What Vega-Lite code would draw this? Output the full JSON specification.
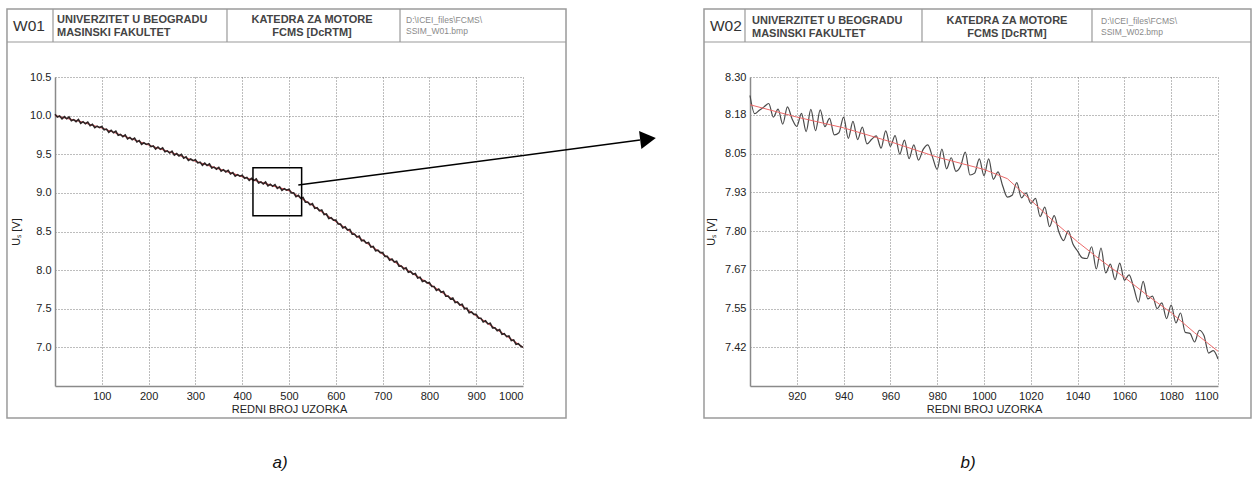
{
"$schema": "https://vega.github.io/schema/vega-lite/v6.json",
"padding": {"left": 6, "top": 8, "right": 0, "bottom": 0},
"bounds": "flush",
"spacing": 227,
"config": {
  "view": {"stroke": null},
  "font": "Liberation Sans",
  "axis": {"labelFont": "Liberation Sans", "labelFontSize": 11, "labelColor": "#222", "titleFont": "Liberation Sans", "titleFontSize": 11, "titleFontWeight": "normal", "titleColor": "#222", "domainColor": "#8a8a8a", "domainWidth": 1.5, "ticks": false, "grid": true, "gridColor": "#7a7a7a", "gridDash": [1, 2], "gridWidth": 1, "gridOpacity": 1, "labelPadding": 4}
},
"datasets": {
  "w01": [
{"n":0,"u":10.018},{"n":5,"u":9.981},{"n":10,"u":9.994},{"n":15,"u":9.957},{"n":20,"u":9.986},{"n":25,"u":9.959},{"n":30,"u":9.982},{"n":35,"u":9.933},{"n":40,"u":9.948},{"n":45,"u":9.923},
{"n":50,"u":9.95},{"n":55,"u":9.901},{"n":60,"u":9.922},{"n":65,"u":9.895},{"n":70,"u":9.916},{"n":75,"u":9.869},{"n":80,"u":9.888},{"n":85,"u":9.843},{"n":90,"u":9.864},{"n":95,"u":9.845},
{"n":100,"u":9.858},{"n":105,"u":9.817},{"n":110,"u":9.826},{"n":115,"u":9.785},{"n":120,"u":9.81},{"n":125,"u":9.779},{"n":130,"u":9.798},{"n":135,"u":9.745},{"n":140,"u":9.756},{"n":145,"u":9.727},
{"n":150,"u":9.75},{"n":155,"u":9.699},{"n":160,"u":9.718},{"n":165,"u":9.689},{"n":170,"u":9.708},{"n":175,"u":9.659},{"n":180,"u":9.676},{"n":185,"u":9.629},{"n":190,"u":9.648},{"n":195,"u":9.627},
{"n":200,"u":9.638},{"n":205,"u":9.598},{"n":210,"u":9.608},{"n":215,"u":9.568},{"n":220,"u":9.594},{"n":225,"u":9.564},{"n":230,"u":9.584},{"n":235,"u":9.532},{"n":240,"u":9.544},{"n":245,"u":9.516},
{"n":250,"u":9.54},{"n":255,"u":9.489},{"n":260,"u":9.508},{"n":265,"u":9.479},{"n":270,"u":9.498},{"n":275,"u":9.449},{"n":280,"u":9.466},{"n":285,"u":9.419},{"n":290,"u":9.438},{"n":295,"u":9.417},
{"n":300,"u":9.428},{"n":305,"u":9.388},{"n":310,"u":9.398},{"n":315,"u":9.358},{"n":320,"u":9.384},{"n":325,"u":9.354},{"n":330,"u":9.374},{"n":335,"u":9.322},{"n":340,"u":9.334},{"n":345,"u":9.306},
{"n":350,"u":9.33},{"n":355,"u":9.28},{"n":360,"u":9.30},{"n":365,"u":9.272},{"n":370,"u":9.292},{"n":375,"u":9.244},{"n":380,"u":9.262},{"n":385,"u":9.216},{"n":390,"u":9.236},{"n":395,"u":9.216},
{"n":400,"u":9.228},{"n":405,"u":9.189},{"n":410,"u":9.2},{"n":415,"u":9.161},{"n":420,"u":9.188},{"n":425,"u":9.159},{"n":430,"u":9.18},{"n":435,"u":9.129},{"n":440,"u":9.142},{"n":445,"u":9.115},
{"n":450,"u":9.14},{"n":455,"u":9.091},{"n":460,"u":9.112},{"n":465,"u":9.085},{"n":470,"u":9.106},{"n":475,"u":9.059},{"n":480,"u":9.078},{"n":485,"u":9.033},{"n":490,"u":9.054},{"n":495,"u":9.035},
{"n":500,"u":9.048},{"n":505,"u":8.999},{"n":510,"u":9.0},{"n":515,"u":8.951},{"n":520,"u":8.968},{"n":525,"u":8.929},{"n":530,"u":8.94},{"n":535,"u":8.879},{"n":540,"u":8.882},{"n":545,"u":8.845},
{"n":550,"u":8.86},{"n":555,"u":8.799},{"n":560,"u":8.808},{"n":565,"u":8.769},{"n":570,"u":8.778},{"n":575,"u":8.719},{"n":580,"u":8.726},{"n":585,"u":8.669},{"n":590,"u":8.678},{"n":595,"u":8.647},
{"n":600,"u":8.648},{"n":605,"u":8.597},{"n":610,"u":8.596},{"n":615,"u":8.545},{"n":620,"u":8.56},{"n":625,"u":8.519},{"n":630,"u":8.528},{"n":635,"u":8.465},{"n":640,"u":8.466},{"n":645,"u":8.427},
{"n":650,"u":8.44},{"n":655,"u":8.379},{"n":660,"u":8.388},{"n":665,"u":8.349},{"n":670,"u":8.358},{"n":675,"u":8.299},{"n":680,"u":8.306},{"n":685,"u":8.249},{"n":690,"u":8.258},{"n":695,"u":8.227},
{"n":700,"u":8.228},{"n":705,"u":8.178},{"n":710,"u":8.178},{"n":715,"u":8.128},{"n":720,"u":8.144},{"n":725,"u":8.104},{"n":730,"u":8.114},{"n":735,"u":8.052},{"n":740,"u":8.054},{"n":745,"u":8.016},
{"n":750,"u":8.03},{"n":755,"u":7.971},{"n":760,"u":7.982},{"n":765,"u":7.945},{"n":770,"u":7.956},{"n":775,"u":7.899},{"n":780,"u":7.908},{"n":785,"u":7.853},{"n":790,"u":7.864},{"n":795,"u":7.835},
{"n":800,"u":7.838},{"n":805,"u":7.788},{"n":810,"u":7.788},{"n":815,"u":7.738},{"n":820,"u":7.754},{"n":825,"u":7.714},{"n":830,"u":7.724},{"n":835,"u":7.662},{"n":840,"u":7.664},{"n":845,"u":7.626},
{"n":850,"u":7.64},{"n":855,"u":7.579},{"n":860,"u":7.588},{"n":865,"u":7.549},{"n":870,"u":7.558},{"n":875,"u":7.499},{"n":880,"u":7.506},{"n":885,"u":7.449},{"n":890,"u":7.458},{"n":895,"u":7.427},
{"n":900,"u":7.428},{"n":905,"u":7.378},{"n":910,"u":7.378},{"n":915,"u":7.328},{"n":920,"u":7.344},{"n":925,"u":7.304},{"n":930,"u":7.314},{"n":935,"u":7.252},{"n":940,"u":7.254},{"n":945,"u":7.216},
{"n":950,"u":7.23},{"n":955,"u":7.169},{"n":960,"u":7.178},{"n":965,"u":7.139},{"n":970,"u":7.148},{"n":975,"u":7.089},{"n":980,"u":7.096},{"n":985,"u":7.039},{"n":990,"u":7.048},{"n":995,"u":7.017},
{"n":1000,"u":7.0}
  ],
  "w01fit": [
{"n":0,"u":10.0},{"n":50,"u":9.93},{"n":100,"u":9.84},{"n":150,"u":9.73},{"n":200,"u":9.62},{"n":250,"u":9.52},{"n":300,"u":9.41},{"n":350,"u":9.31},{"n":400,"u":9.21},{"n":450,"u":9.12},{"n":500,"u":9.03},{"n":550,"u":8.84},{"n":600,"u":8.63},{"n":650,"u":8.42},{"n":700,"u":8.21},{"n":750,"u":8.01},{"n":800,"u":7.82},{"n":850,"u":7.62},{"n":900,"u":7.41},{"n":950,"u":7.21},{"n":1000,"u":7.0}
  ],
  "w02": [
{"n":900,"u":8.24},{"n":902,"u":8.181},{"n":904,"u":8.192},{"n":906,"u":8.203},{"n":908,"u":8.214},{"n":910,"u":8.17},{"n":912,"u":8.196},{"n":914,"u":8.147},{"n":916,"u":8.203},{"n":918,"u":8.164},
{"n":920,"u":8.14},{"n":922,"u":8.182},{"n":924,"u":8.123},{"n":926,"u":8.195},{"n":928,"u":8.126},{"n":930,"u":8.193},{"n":932,"u":8.139},{"n":934,"u":8.166},{"n":936,"u":8.112},{"n":938,"u":8.119},
{"n":940,"u":8.17},{"n":942,"u":8.101},{"n":944,"u":8.156},{"n":946,"u":8.097},{"n":948,"u":8.137},{"n":950,"u":8.083},{"n":952,"u":8.098},{"n":954,"u":8.109},{"n":956,"u":8.069},{"n":958,"u":8.125},
{"n":960,"u":8.075},{"n":962,"u":8.11},{"n":964,"u":8.05},{"n":966,"u":8.095},{"n":968,"u":8.035},{"n":970,"u":8.08},{"n":972,"u":8.03},{"n":974,"u":8.065},{"n":976,"u":8.08},{"n":978,"u":8.04},
{"n":980,"u":8.0},{"n":982,"u":8.066},{"n":984,"u":8.002},{"n":986,"u":8.038},{"n":988,"u":7.994},{"n":990,"u":8.01},{"n":992,"u":8.056},{"n":994,"u":7.982},{"n":996,"u":7.988},{"n":998,"u":8.034},
{"n":1000,"u":7.98},{"n":1002,"u":8.034},{"n":1004,"u":7.968},{"n":1006,"u":7.992},{"n":1008,"u":7.946},{"n":1010,"u":7.91},{"n":1012,"u":7.916},{"n":1014,"u":7.957},{"n":1016,"u":7.908},{"n":1018,"u":7.924},
{"n":1020,"u":7.89},{"n":1022,"u":7.906},{"n":1024,"u":7.847},{"n":1026,"u":7.878},{"n":1028,"u":7.814},{"n":1030,"u":7.85},{"n":1032,"u":7.797},{"n":1034,"u":7.769},{"n":1036,"u":7.801},{"n":1038,"u":7.758},
{"n":1040,"u":7.735},{"n":1042,"u":7.713},{"n":1044,"u":7.711},{"n":1046,"u":7.749},{"n":1048,"u":7.677},{"n":1050,"u":7.745},{"n":1052,"u":7.664},{"n":1054,"u":7.693},{"n":1056,"u":7.642},{"n":1058,"u":7.696},
{"n":1060,"u":7.64},{"n":1062,"u":7.658},{"n":1064,"u":7.616},{"n":1066,"u":7.569},{"n":1068,"u":7.637},{"n":1070,"u":7.58},{"n":1072,"u":7.589},{"n":1074,"u":7.548},{"n":1076,"u":7.567},{"n":1078,"u":7.516},
{"n":1080,"u":7.56},{"n":1082,"u":7.502},{"n":1084,"u":7.534},{"n":1086,"u":7.471},{"n":1088,"u":7.468},{"n":1090,"u":7.44},{"n":1092,"u":7.478},{"n":1094,"u":7.461},{"n":1096,"u":7.404},{"n":1098,"u":7.412},
{"n":1100,"u":7.385}
  ],
  "w02fit": [
{"n":900,"u":8.21},{"n":920,"u":8.17},{"n":940,"u":8.135},{"n":960,"u":8.09},{"n":980,"u":8.04},{"n":1000,"u":8.0},{"n":1010,"u":7.97},{"n":1020,"u":7.9},{"n":1030,"u":7.83},{"n":1040,"u":7.765},{"n":1050,"u":7.705},{"n":1060,"u":7.65},{"n":1070,"u":7.59},{"n":1080,"u":7.535},{"n":1090,"u":7.47},{"n":1100,"u":7.41}
  ]
},
"hconcat": [
{
  "width": 468, "height": 309,
  "layer": [
    {
      "data": {"name": "w01fit"},
      "mark": {"type": "line", "color": "#e0505a", "strokeWidth": 1.2},
      "encoding": {
        "x": {"field": "n", "type": "quantitative", "scale": {"domain": [0, 1000], "nice": false, "zero": false},
              "axis": {"values": [100, 200, 300, 400, 500, 600, 700, 800, 900, 1000], "format": "d", "title": "REDNI BROJ UZORKA", "titlePadding": 2}},
        "y": {"field": "u", "type": "quantitative", "scale": {"domain": [6.5, 10.5], "nice": false, "zero": false},
              "axis": {"values": [7.0, 7.5, 8.0, 8.5, 9.0, 9.5, 10.0, 10.5], "format": ".1f", "title": "Uₛ [V]", "titlePadding": 8}}
      }
    },
    {
      "data": {"name": "w01"},
      "mark": {"type": "line", "color": "#2e2424", "strokeWidth": 1.6},
      "encoding": {
        "x": {"field": "n", "type": "quantitative", "title": "REDNI BROJ UZORKA"},
        "y": {"field": "u", "type": "quantitative", "title": "Uₛ [V]"}
      }
    },
    {
      "data": {"values": [{}]},
      "layer": [
        {"mark": {"type": "rect", "filled": false, "stroke": "#9a9a9a", "strokeWidth": 1.5, "clip": false},
         "encoding": {"x": {"datum": -102.6, "type": "quantitative"}, "x2": {"datum": 1091.9}, "y": {"datum": 11.38, "type": "quantitative"}, "y2": {"datum": 6.086}}},
        {"mark": {"type": "rule", "stroke": "#9a9a9a", "strokeWidth": 1.2, "clip": false},
         "encoding": {"x": {"datum": -102.6, "type": "quantitative"}, "x2": {"datum": 1091.9}, "y": {"datum": 10.953, "type": "quantitative"}}},
        {"mark": {"type": "rule", "stroke": "#9a9a9a", "strokeWidth": 1.2, "clip": false},
         "encoding": {"x": {"datum": -4.27, "type": "quantitative"}, "y": {"datum": 11.38, "type": "quantitative"}, "y2": {"datum": 10.953}}},
        {"mark": {"type": "rule", "stroke": "#9a9a9a", "strokeWidth": 1.2, "clip": false},
         "encoding": {"x": {"datum": 367.5, "type": "quantitative"}, "y": {"datum": 11.38, "type": "quantitative"}, "y2": {"datum": 10.953}}},
        {"mark": {"type": "rule", "stroke": "#9a9a9a", "strokeWidth": 1.2, "clip": false},
         "encoding": {"x": {"datum": 737.2, "type": "quantitative"}, "y": {"datum": 11.38, "type": "quantitative"}, "y2": {"datum": 10.953}}},
        {"mark": {"type": "text", "text": "W01", "align": "left", "baseline": "middle", "fontSize": 15.5, "color": "#333", "clip": false},
         "encoding": {"x": {"datum": -89.7, "type": "quantitative"}, "y": {"datum": 11.16, "type": "quantitative"}}},
        {"mark": {"type": "text", "text": ["UNIVERZITET U BEOGRADU", "MASINSKI FAKULTET"], "lineHeight": 13, "align": "left", "baseline": "middle", "fontSize": 11, "fontWeight": "bold", "color": "#444", "clip": false},
         "encoding": {"x": {"datum": 4.3, "type": "quantitative"}, "y": {"datum": 11.232, "type": "quantitative"}}},
        {"mark": {"type": "text", "text": ["KATEDRA ZA MOTORE", "FCMS [DcRTM]"], "lineHeight": 13, "align": "center", "baseline": "middle", "fontSize": 11, "fontWeight": "bold", "color": "#444", "clip": false},
         "encoding": {"x": {"datum": 549.2, "type": "quantitative"}, "y": {"datum": 11.232, "type": "quantitative"}}},
        {"mark": {"type": "text", "text": ["D:\\ICEI_files\\FCMS\\", "SSIM_W01.bmp"], "lineHeight": 11, "align": "left", "baseline": "middle", "fontSize": 8.5, "color": "#8a8a8a", "clip": false},
         "encoding": {"x": {"datum": 750.0, "type": "quantitative"}, "y": {"datum": 11.232, "type": "quantitative"}}},
        {"mark": {"type": "text", "text": "a)", "align": "center", "baseline": "middle", "fontSize": 17, "fontStyle": "italic", "color": "#111", "clip": false},
         "encoding": {"x": {"datum": 480.8, "type": "quantitative"}, "y": {"datum": 5.503, "type": "quantitative"}}},
        {"mark": {"type": "rect", "filled": false, "stroke": "#000", "strokeWidth": 1.5, "clip": false},
         "encoding": {"x": {"datum": 423, "type": "quantitative"}, "x2": {"datum": 527}, "y": {"datum": 9.326, "type": "quantitative"}, "y2": {"datum": 8.704}}},
        {"mark": {"type": "rule", "stroke": "#000", "strokeWidth": 1.5, "clip": false},
         "encoding": {"x": {"datum": 519.9, "type": "quantitative"}, "x2": {"datum": 1250}, "y": {"datum": 9.102, "type": "quantitative"}, "y2": {"datum": 9.684}}},
        {"mark": {"type": "point", "shape": "triangle-right", "filled": true, "color": "#000", "opacity": 1, "size": 330, "angle": -7.4, "clip": false},
         "encoding": {"x": {"datum": 1267.1, "type": "quantitative"}, "y": {"datum": 9.697, "type": "quantitative"}}}
      ]
    }
  ]
},
{
  "width": 468, "height": 309,
  "layer": [
    {
      "data": {"name": "w02"},
      "mark": {"type": "line", "color": "#4a4a4a", "strokeWidth": 1.2, "interpolate": "monotone"},
      "encoding": {
        "x": {"field": "n", "type": "quantitative", "scale": {"domain": [900, 1100], "nice": false, "zero": false},
              "axis": {"values": [920, 940, 960, 980, 1000, 1020, 1040, 1060, 1080, 1100], "format": "d", "title": "REDNI BROJ UZORKA", "titlePadding": 2}},
        "y": {"field": "u", "type": "quantitative", "scale": {"domain": [7.297143, 8.3], "nice": false, "zero": false},
              "axis": {"values": [7.422857, 7.548571, 7.674286, 7.8, 7.925714, 8.051429, 8.177143, 8.3], "format": ".2f", "title": "Uₛ [V]", "titlePadding": 8}}
      }
    },
    {
      "data": {"name": "w02fit"},
      "mark": {"type": "line", "color": "#ec6a6a", "strokeWidth": 1},
      "encoding": {
        "x": {"field": "n", "type": "quantitative", "title": "REDNI BROJ UZORKA"},
        "y": {"field": "u", "type": "quantitative", "title": "Uₛ [V]"}
      }
    },
    {
      "data": {"values": [{}]},
      "layer": [
        {"mark": {"type": "rect", "filled": false, "stroke": "#9a9a9a", "strokeWidth": 1.5, "clip": false},
         "encoding": {"x": {"datum": 880.34, "type": "quantitative"}, "x2": {"datum": 1114.1}, "y": {"datum": 8.5207, "type": "quantitative"}, "y2": {"datum": 7.193}}},
        {"mark": {"type": "rule", "stroke": "#9a9a9a", "strokeWidth": 1.2, "clip": false},
         "encoding": {"x": {"datum": 880.34, "type": "quantitative"}, "x2": {"datum": 1114.1}, "y": {"datum": 8.4136, "type": "quantitative"}}},
        {"mark": {"type": "rule", "stroke": "#9a9a9a", "strokeWidth": 1.2, "clip": false},
         "encoding": {"x": {"datum": 897.86, "type": "quantitative"}, "y": {"datum": 8.5207, "type": "quantitative"}, "y2": {"datum": 8.4136}}},
        {"mark": {"type": "rule", "stroke": "#9a9a9a", "strokeWidth": 1.2, "clip": false},
         "encoding": {"x": {"datum": 973.5, "type": "quantitative"}, "y": {"datum": 8.5207, "type": "quantitative"}, "y2": {"datum": 8.4136}}},
        {"mark": {"type": "rule", "stroke": "#9a9a9a", "strokeWidth": 1.2, "clip": false},
         "encoding": {"x": {"datum": 1046.15, "type": "quantitative"}, "y": {"datum": 8.5207, "type": "quantitative"}, "y2": {"datum": 8.4136}}},
        {"mark": {"type": "text", "text": "W02", "align": "left", "baseline": "middle", "fontSize": 15.5, "color": "#333", "clip": false},
         "encoding": {"x": {"datum": 882.9, "type": "quantitative"}, "y": {"datum": 8.4655, "type": "quantitative"}}},
        {"mark": {"type": "text", "text": ["UNIVERZITET U BEOGRADU", "MASINSKI FAKULTET"], "lineHeight": 13, "align": "left", "baseline": "middle", "fontSize": 11, "fontWeight": "bold", "color": "#444", "clip": false},
         "encoding": {"x": {"datum": 900.85, "type": "quantitative"}, "y": {"datum": 8.4833, "type": "quantitative"}}},
        {"mark": {"type": "text", "text": ["KATEDRA ZA MOTORE", "FCMS [DcRTM]"], "lineHeight": 13, "align": "center", "baseline": "middle", "fontSize": 11, "fontWeight": "bold", "color": "#444", "clip": false},
         "encoding": {"x": {"datum": 1009.8, "type": "quantitative"}, "y": {"datum": 8.4833, "type": "quantitative"}}},
        {"mark": {"type": "text", "text": ["D:\\ICEI_files\\FCMS\\", "SSIM_W02.bmp"], "lineHeight": 11, "align": "left", "baseline": "middle", "fontSize": 8.5, "color": "#8a8a8a", "clip": false},
         "encoding": {"x": {"datum": 1050.0, "type": "quantitative"}, "y": {"datum": 8.4833, "type": "quantitative"}}},
        {"mark": {"type": "text", "text": "b)", "align": "center", "baseline": "middle", "fontSize": 17, "fontStyle": "italic", "color": "#111", "clip": false},
         "encoding": {"x": {"datum": 993.2, "type": "quantitative"}, "y": {"datum": 7.047, "type": "quantitative"}}}
      ]
    }
  ]
}
]
}
